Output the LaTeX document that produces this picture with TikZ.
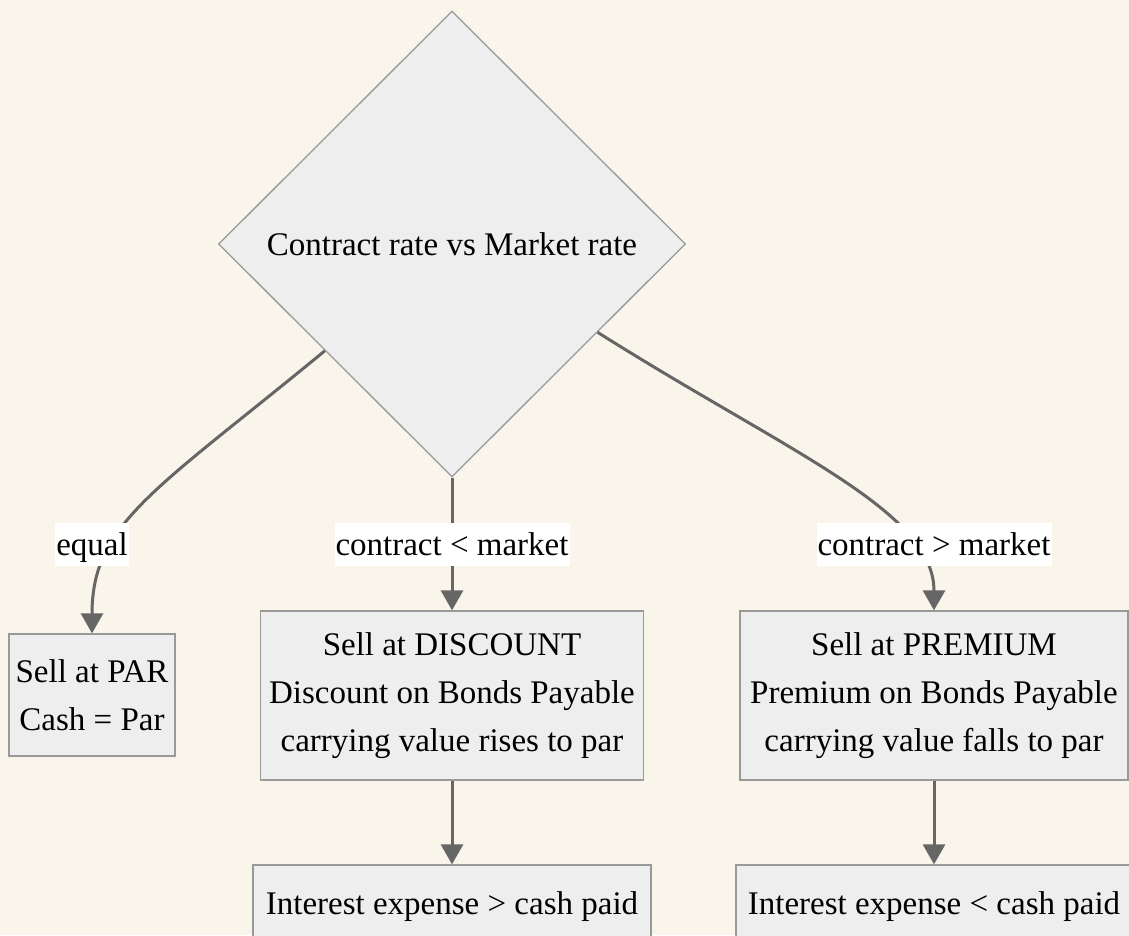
\documentclass[tikz,border=0pt]{standalone}
\usepackage{fontspec}
\setmainfont{Liberation Serif}
\usepackage{xcolor}
\usetikzlibrary{positioning,calc,shapes.geometric,arrows.meta}
\definecolor{paper}{HTML}{F9F5EB}
\definecolor{boxfill}{HTML}{EEEEEE}
\definecolor{boxline}{HTML}{999999}
\definecolor{edgeline}{HTML}{666666}

\begin{document}
\begin{tikzpicture}[x=1pt,y=-1pt,
  every node/.style={font=\fontsize{33}{48}\selectfont},
  decision/.style={diamond,draw=boxline,fill=boxfill,line width=1.3pt,
    minimum width=467pt,minimum height=466pt,inner sep=0pt},
  procbox/.style={draw=boxline,fill=boxfill,line width=1.3pt,align=center,inner sep=0pt},
  flow/.style={draw=edgeline,line width=3pt,-{Triangle[length=20pt,width=22pt]}},
  lbl/.style={fill=white,inner xsep=1pt,inner ysep=0pt,text height=27pt,text depth=4pt,minimum height=43pt}]
\useasboundingbox (0,0) rectangle (1129,935);
\fill[paper] (0,0) rectangle (1129,935);
\clip (0,0) rectangle (1129,935);

\node[decision] (rate) at (452,244) {Contract rate vs Market rate};
\node[procbox,minimum width=166pt,minimum height=122pt] (par) at (92,695) {Sell at PAR\\Cash = Par};
\node[procbox,minimum width=383pt,minimum height=169pt] (disc) at (452,695.5)
  {Sell at DISCOUNT\\Discount on Bonds Payable\\carrying value rises to par};
\node[procbox,minimum width=388pt,minimum height=169pt] (prem) at (934,695.5)
  {Sell at PREMIUM\\Premium on Bonds Payable\\carrying value falls to par};
\node[procbox,minimum width=398pt,minimum height=76pt,text height=26pt,text depth=4pt] (intgt) at (452,903) {Interest expense > cash paid};
\node[procbox,minimum width=396pt,minimum height=76pt,text height=26pt,text depth=4pt] (intlt) at (934,903) {Interest expense < cash paid};

\coordinate (outl) at ($(rate.west)!0.457!(rate.south)$);
\coordinate (outr) at ($(rate.east)!0.378!(rate.south)$);

\draw[flow] (outl) .. controls +(-170,140) and +(0,-110) .. (par.north);
\draw[flow] (rate.south) -- (disc.north);
\draw[flow] (outr) .. controls +(190,120) and +(0,-100) .. (prem.north);
\draw[flow] (disc.south) -- (intgt.north);
\draw[flow] (prem.south) -- (intlt.north);

\node[lbl] (leq) at (92,544) {equal};
\node[lbl] (llt) at (452,544) {contract < market};
\node[lbl] (lgt) at (934,544) {contract > market};
\end{tikzpicture}
\end{document}
